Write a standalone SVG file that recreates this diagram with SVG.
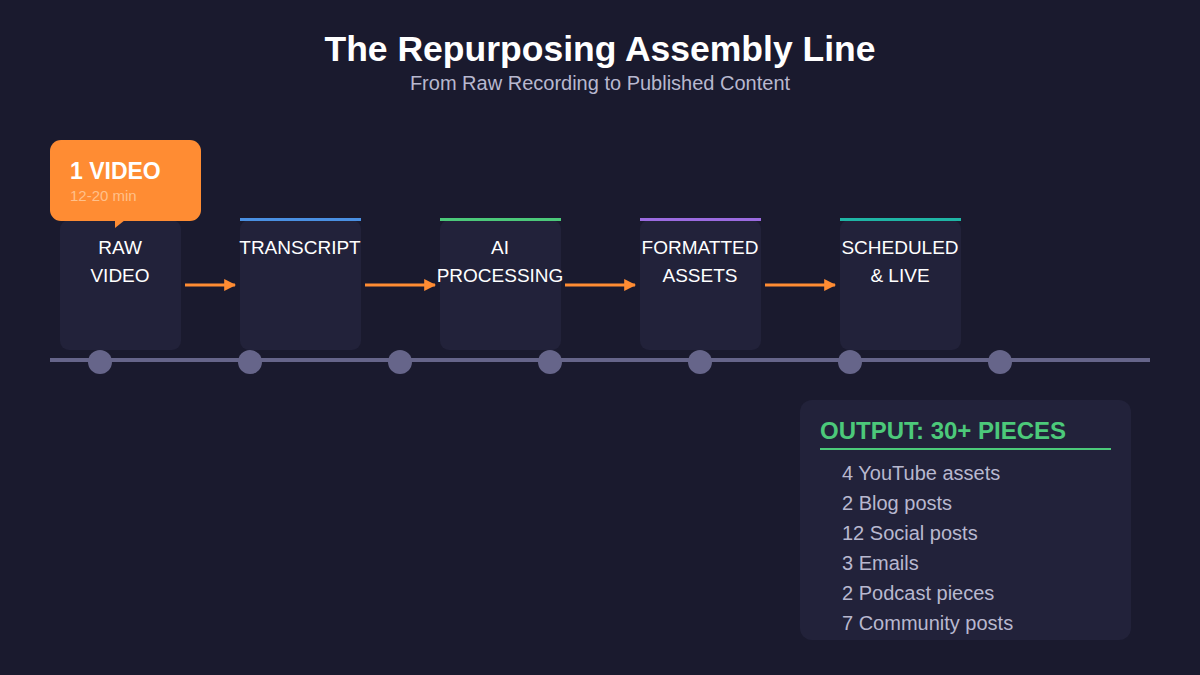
<svg xmlns="http://www.w3.org/2000/svg" width="1200" height="675" viewBox="0 0 1200 675">
<defs>
<style>
text{font-family:"Liberation Sans",Arial,sans-serif}
.box{fill:#22223a}
.lbl{fill:#fff;font-size:19px;text-anchor:middle}
.dot{fill:#66658a}
.arr{stroke:#ff8c33;stroke-width:3;fill:none}
.item{fill:#b8b8cf;font-size:20px}
</style>
<marker id="ah" viewBox="0 0 10 10" refX="9" refY="5" markerWidth="12" markerHeight="14" markerUnits="userSpaceOnUse" orient="auto"><path d="M0,0L10,5L0,10z" fill="#ff8c33"/></marker>
</defs>
<rect width="1200" height="675" fill="#1a1a2e"/>
<text x="600" y="61" text-anchor="middle" font-size="35.5" font-weight="bold" fill="#fff">The Repurposing Assembly Line</text>
<text x="600" y="90" text-anchor="middle" font-size="20" fill="#b8b8cf">From Raw Recording to Published Content</text>
<g id="timeline">
<line x1="50" y1="360" x2="1150" y2="360" stroke="#66658a" stroke-width="4"/>
<circle class="dot" cx="100" cy="362" r="12"/><circle class="dot" cx="250" cy="362" r="12"/><circle class="dot" cx="400" cy="362" r="12"/><circle class="dot" cx="550" cy="362" r="12"/><circle class="dot" cx="700" cy="362" r="12"/><circle class="dot" cx="850" cy="362" r="12"/><circle class="dot" cx="1000" cy="362" r="12"/>
</g>
<g id="raw"><rect class="box" x="60" y="220" width="121" height="130" rx="9"/><text class="lbl" x="120" y="254">RAW</text><text class="lbl" x="120" y="282">VIDEO</text></g>
<g id="transcript"><rect class="box" x="240" y="220" width="121" height="130" rx="9"/><rect x="240" y="218" width="121" height="3" fill="#4a90e2"/><text class="lbl" x="300" y="254">TRANSCRIPT</text></g>
<g id="ai"><rect class="box" x="440" y="220" width="121" height="130" rx="9"/><rect x="440" y="218" width="121" height="3" fill="#4cc97a"/><text class="lbl" x="500" y="254">AI</text><text class="lbl" x="500" y="282">PROCESSING</text></g>
<g id="formatted"><rect class="box" x="640" y="220" width="121" height="130" rx="9"/><rect x="640" y="218" width="121" height="3" fill="#9b6be0"/><text class="lbl" x="700" y="254">FORMATTED</text><text class="lbl" x="700" y="282">ASSETS</text></g>
<g id="scheduled"><rect class="box" x="840" y="220" width="121" height="130" rx="9"/><rect x="840" y="218" width="121" height="3" fill="#1fb5a5"/><text class="lbl" x="900" y="254">SCHEDULED</text><text class="lbl" x="900" y="282">&amp; LIVE</text></g>
<g id="connectors">
<line class="arr" x1="185" y1="285" x2="235" y2="285" marker-end="url(#ah)"/>
<line class="arr" x1="365" y1="285" x2="435" y2="285" marker-end="url(#ah)"/>
<line class="arr" x1="565" y1="285" x2="635" y2="285" marker-end="url(#ah)"/>
<line class="arr" x1="765" y1="285" x2="835" y2="285" marker-end="url(#ah)"/>
</g>
<g id="badge">
<rect x="50" y="140" width="151" height="81" rx="11" fill="#ff8c33"/>
<path d="M115,220L125,220L115,228z" fill="#ff8c33"/>
<text x="70" y="179" font-size="23" font-weight="bold" fill="#fff">1 VIDEO</text>
<text x="70" y="201" font-size="15" fill="#ffc08a">12-20 min</text>
</g>
<g id="output">
<rect x="800" y="400" width="331" height="240" rx="12" fill="#22223a"/>
<text x="820" y="439" font-size="24" font-weight="bold" fill="#4cc97a">OUTPUT: 30+ PIECES</text>
<rect x="820" y="448" width="291" height="2" fill="#4cc97a"/>
<text class="item" x="842" y="480">4 YouTube assets</text>
<text class="item" x="842" y="510">2 Blog posts</text>
<text class="item" x="842" y="540">12 Social posts</text>
<text class="item" x="842" y="570">3 Emails</text>
<text class="item" x="842" y="600">2 Podcast pieces</text>
<text class="item" x="842" y="630">7 Community posts</text>
</g>
</svg>
